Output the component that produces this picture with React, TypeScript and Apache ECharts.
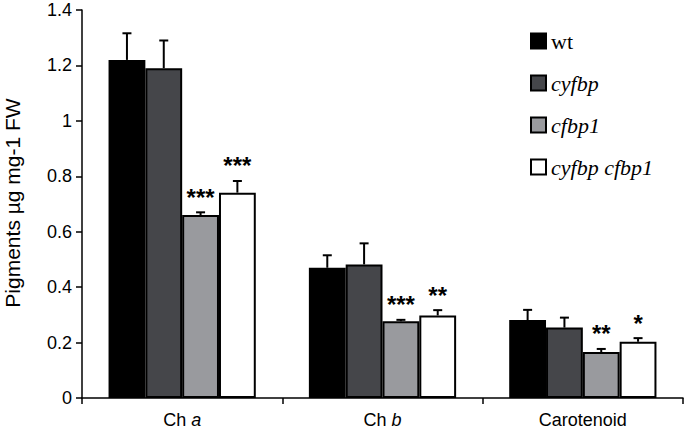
import React, { useEffect, useRef } from "react";
import * as echarts from "echarts";

const categories = ["Ch a", "Ch b", "Carotenoid"];
const seriesNames = ["wt", "cyfbp", "cfbp1", "cyfbp cfbp1"];
const wtValues = [1.22, 0.47, 0.281];
const cyfbpValues = [1.19, 0.482, 0.254];
const cfbp1Values = [0.66, 0.277, 0.166];
const doubleValues = [0.741, 0.298, 0.203];
const wtErrors = [0.096, 0.045, 0.037];
const cyfbpErrors = [0.1, 0.076, 0.036];
const cfbp1Errors = [0.01, 0.005, 0.011];
const doubleErrors = [0.042, 0.019, 0.013];
const wtStars = ["", "", ""];
const cyfbpStars = ["", "", ""];
const cfbp1Stars = ["***", "***", "**"];
const doubleStars = ["***", "**", "*"];
const yTicks = [0, 0.2, 0.4, 0.6, 0.8, 1, 1.2, 1.4];

const colors = ["#000000", "#45464a", "#999a9e", "#ffffff"];
const CAT_GAP = 0.265;
const SANS = "'Liberation Sans', Arial, sans-serif";
const SERIF = "'Liberation Serif', 'Times New Roman', serif";

export default function App() {
  const ref = useRef<HTMLDivElement>(null);
  useEffect(() => {
    if (!ref.current) return;
    const chart = echarts.init(ref.current, undefined, { renderer: "svg" });
    const values = [wtValues, cyfbpValues, cfbp1Values, doubleValues];
    const errors = [wtErrors, cyfbpErrors, cfbp1Errors, doubleErrors];
    const stars = [wtStars, cyfbpStars, cfbp1Stars, doubleStars];
    const errData: any[] = [];
    const starList: string[] = [];
    for (let s = 0; s < 4; s++) {
      for (let c = 0; c < categories.length; c++) {
        errData.push([c, s, values[s][c], errors[s][c]]);
        starList.push(stars[s][c]);
      }
    }
    const barSeries = seriesNames.map((name, i) => ({
      name,
      type: "bar",
      data: values[i],
      barGap: "0%",
      barCategoryGap: (CAT_GAP * 100).toFixed(1) + "%",
      itemStyle: { color: colors[i], borderColor: "#000", borderWidth: 2 },
      z: 2,
    }));
    chart.setOption({
      animation: false,
      grid: { left: 82, right: 2, top: 10, bottom: 31, containLabel: false },
      legend: {
        orient: "vertical",
        left: 530,
        top: 30,
        padding: 0,
        itemWidth: 15,
        itemHeight: 15,
        itemGap: 20,
        data: seriesNames.map((n) => ({ name: n, icon: "rect" })),
        formatter: (n: string) => (n === "wt" ? "{n|wt}" : "{i|" + n + "}"),
        textStyle: {
          rich: {
            n: { fontFamily: SERIF, fontSize: 22, color: "#000" },
            i: { fontFamily: SERIF, fontSize: 22, fontStyle: "italic", color: "#000" },
          },
        },
        itemStyle: { borderColor: "#000", borderWidth: 2 },
      },
      xAxis: {
        type: "category",
        data: categories,
        axisLine: { lineStyle: { color: "#000", width: 1.5 } },
        axisTick: { show: true, length: 6, lineStyle: { color: "#000", width: 1.5 } },
        axisLabel: {
          margin: 13,
          formatter: (v: string) =>
            v === "Ch a" ? "{n|Ch }{i|a}" : v === "Ch b" ? "{n|Ch }{i|b}" : "{n|" + v + "}",
          rich: {
            n: { fontFamily: SANS, fontSize: 18, color: "#000" },
            i: { fontFamily: SANS, fontSize: 18, fontStyle: "italic", color: "#000" },
          },
        },
      },
      yAxis: {
        type: "value",
        min: yTicks[0],
        max: yTicks[yTicks.length - 1],
        interval: 0.2,
        splitLine: { show: false },
        axisLine: { show: true, lineStyle: { color: "#000", width: 1.5 } },
        axisTick: { show: true, length: 6, lineStyle: { color: "#000", width: 1.5 } },
        axisLabel: {
          margin: 10,
          color: "#000",
          fontFamily: SANS,
          fontSize: 18,
          formatter: (v: number) => String(parseFloat(v.toFixed(1))),
        },
      },
      graphic: [
        {
          type: "text",
          x: 12,
          y: 203,
          rotation: Math.PI / 2,
          style: {
            text: "Pigments µg mg-1 FW",
            fontFamily: SANS,
            fontSize: 21,
            fill: "#000",
            align: "center",
            verticalAlign: "middle",
          },
        },
      ],
      series: [
        ...barSeries,
        {
          type: "custom",
          name: "errors",
          data: errData,
          z: 5,
          renderItem: (params: any, api: any) => {
            const c = api.value(0);
            const s = api.value(1);
            const v = api.value(2);
            const e = api.value(3);
            const base = api.coord([c, v]);
            const top = api.coord([c, v + e]);
            const catW = api.size([1, 0])[0];
            const barW = (catW * (1 - CAT_GAP)) / 4;
            const x = base[0] - 2 * barW + barW * (s + 0.5);
            const star = starList[params.dataIndex];
            const children: any[] = [
              {
                type: "line",
                shape: { x1: x, y1: base[1], x2: x, y2: top[1] },
                style: { stroke: "#000", lineWidth: 2 },
              },
              {
                type: "line",
                shape: { x1: x - 4.5, y1: top[1], x2: x + 4.5, y2: top[1] },
                style: { stroke: "#000", lineWidth: 2 },
              },
            ];
            if (star) {
              children.push({
                type: "text",
                x,
                y: top[1] - 3,
                style: {
                  text: star,
                  fontFamily: SANS,
                  fontSize: 24,
                  fontWeight: "bold",
                  fill: "#000",
                  align: "center",
                  verticalAlign: "bottom",
                },
              });
            }
            return { type: "group", children };
          },
        },
      ],
    });
    return () => chart.dispose();
  }, []);
  return (
    <div
      ref={ref}
      style={{ position: "absolute", left: 0, top: 0, width: 685, height: 429 }}
    />
  );
}
